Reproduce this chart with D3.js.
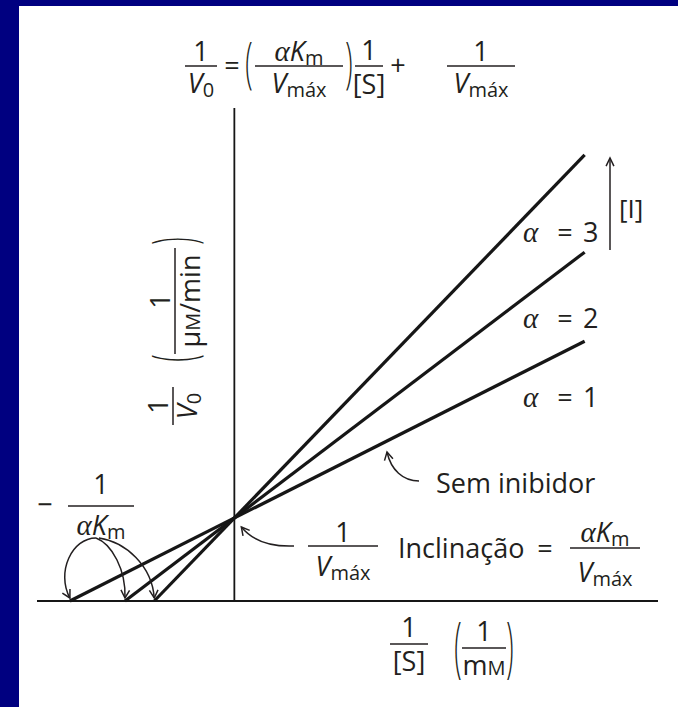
<!DOCTYPE html>
<html>
<head>
<meta charset="utf-8">
<script src="https://cdn.jsdelivr.net/npm/d3@7"></script>
<style>
  html, body { margin: 0; padding: 0; background: #ffffff; overflow: hidden; }
  svg { display: block; }
  text { font-family: "Open Sans", "Noto Sans", sans-serif; fill: #231f20; }
</style>
</head>
<body>
<svg id="chart" width="678" height="707"></svg>
<script>
// Lineweaver–Burk (double reciprocal) plot for competitive inhibition.
// All lines share the y-intercept 1/Vmax; their x-intercepts are -1/(αKm).
const alphaValues = [1, 2, 3];
const invVmax = 1.0;                          // 1/V0 at 1/[S] = 0
const xIntercepts = [-1.0, -0.665, -0.487];   // -1/(αKm) for α = 1, 2, 3
const invSEnd = 2.13;                         // right end of each line (1/[S])
const xDomain = [-1.2, 2.576];
const yDomain = [0, 6];
const yAxisTop = 5.94;

const W = 678, H = 707;
const ink = "#231f20";
const lineInk = "#161616";
const FS = 27;

const svg = d3.select("#chart");

// panel: navy frame on the left and top, white drawing area
svg.append("rect").attr("width", W).attr("height", H).attr("fill", "#000080");
svg.append("rect").attr("x", 19).attr("y", 6).attr("width", W - 19).attr("height", H - 6).attr("fill", "#ffffff");

const x = d3.scaleLinear().domain(xDomain).range([37, 658]);
const y = d3.scaleLinear().domain(yDomain).range([601, 103]);

// axes: horizontal 1/[S] axis and vertical 1/V0 axis through the origin
svg.append("line")
  .attr("x1", x(xDomain[0])).attr("x2", x(xDomain[1]))
  .attr("y1", y(0)).attr("y2", y(0))
  .attr("stroke", lineInk).attr("stroke-width", 1.8);
svg.append("line")
  .attr("x1", x(0)).attr("x2", x(0))
  .attr("y1", y(0)).attr("y2", y(yAxisTop))
  .attr("stroke", lineInk).attr("stroke-width", 1.8);

// one straight line per α, from its x-intercept to the right edge
const series = alphaValues.map((a, i) => {
  const slope = invVmax / -xIntercepts[i];
  return { alpha: a, pts: [[xIntercepts[i], 0], [invSEnd, invVmax + slope * invSEnd]] };
});
const lineGen = d3.line().x(d => x(d[0])).y(d => y(d[1]));
svg.append("g").selectAll("path").data(series).join("path")
  .attr("d", d => lineGen(d.pts))
  .attr("fill", "none").attr("stroke", lineInk).attr("stroke-width", 3.2);

// ---------- text helpers ----------
// parts: [string, style] with style "" (upright), "i" (italic), "a" (Greek italic),
// "s" (subscript), "sc" (small capital)
function rich(g, px, py, parts, anchor = "middle", fs = FS) {
  const t = g.append("text").attr("x", px).attr("y", py)
    .attr("text-anchor", anchor).attr("font-size", fs);
  let off = 0;
  parts.forEach(([s, st]) => {
    const sp = t.append("tspan").text(s);
    let target = 0;
    if (st === "i") sp.attr("font-style", "italic");
    if (st === "a") sp.attr("font-style", "italic").attr("font-family", "'Liberation Serif', serif").attr("font-size", fs * 1.08);
    if (st === "s") { sp.attr("font-size", fs * 0.74); target = 4; }
    if (st === "sc") sp.attr("font-size", fs * 0.74);
    if (target !== off) { sp.attr("dy", target - off); off = target; }
  });
  return t;
}
function frac(g, cx, barY, halfW, num, den, numDy = -5, denDy = 27, fs = FS) {
  g.append("line")
    .attr("x1", cx - halfW).attr("x2", cx + halfW)
    .attr("y1", barY).attr("y2", barY)
    .attr("stroke", ink).attr("stroke-width", 1.5);
  rich(g, cx, barY + numDy, num, "middle", fs);
  rich(g, cx, barY + denDy, den, "middle", fs);
}
// tall parenthesis, stretched vertically about its centre
function paren(g, px, cy, ch, height, fs = FS) {
  const k = height / fs;
  g.append("g").attr("transform", `translate(${px},${cy}) scale(1,${k})`)
    .append("text").attr("x", 0).attr("y", 0.26 * fs)
    .attr("text-anchor", "middle").attr("font-size", fs).attr("font-weight", 300)
    .text(ch);
}
function arrowHead(g, tip, from, len = 9, ang = 0.5) {
  const a = Math.atan2(tip[1] - from[1], tip[0] - from[0]);
  const p1 = [tip[0] - len * Math.cos(a - ang), tip[1] - len * Math.sin(a - ang)];
  const p2 = [tip[0] - len * Math.cos(a + ang), tip[1] - len * Math.sin(a + ang)];
  g.append("path").attr("d", `M${p1}L${tip}L${p2}`)
    .attr("fill", "none").attr("stroke", ink).attr("stroke-width", 1.5);
}
function curvedArrow(g, start, c1, c2, tip) {
  g.append("path").attr("d", `M${start}C${c1} ${c2} ${tip}`)
    .attr("fill", "none").attr("stroke", ink).attr("stroke-width", 1.5);
  arrowHead(g, tip, c2);
}

const ann = svg.append("g");

// ---------- equation above the plot ----------
frac(ann, 201, 66, 16, [["1", ""]], [["V", "i"], ["0", "s"]]);
rich(ann, 232, 75, [["=", ""]]);
paren(ann, 249, 67, "(", 56);
frac(ann, 299, 66, 44, [["α", "a"], ["K", "i"], ["m", "s"]], [["V", "i"], ["máx", "s"]]);
paren(ann, 349, 67, ")", 56);
frac(ann, 369, 66, 14, [["1", ""]], [["[S]", ""]], -6, 28);
rich(ann, 398, 75, [["+", ""]]);
frac(ann, 481, 66, 34, [["1", ""]], [["V", "i"], ["máx", "s"]]);

// ---------- y-axis title (rotated) ----------
const yt = svg.append("g").attr("transform", "rotate(-90)");
frac(yt, -406, 173, 19, [["1", ""]], [["V", "i"], ["0", "s"]], -5, 24);
paren(yt, -358, 179, "(", 58);
frac(yt, -301, 175, 53, [["1", ""]], [["μ", ""], ["M", "sc"], ["/min", ""]], -5, 25);
paren(yt, -241, 179, ")", 58);

// ---------- x-axis title ----------
frac(ann, 409, 644, 19, [["1", ""]], [["[S]", ""]], -7, 27);
paren(ann, 458, 653, "(", 66);
frac(ann, 484, 648, 22, [["1", ""]], [["m", ""], ["M", "sc"]], -7, 27);
paren(ann, 510, 653, ")", 66);

// ---------- -1/(αKm) with arrows to each x-intercept ----------
rich(ann, 45, 514, [["−", ""]]);
frac(ann, 101, 506, 33, [["1", ""]], [["α", "a"], ["K", "i"], ["m", "s"]], -12, 29);
const tips = xIntercepts.map(v => [x(v), y(0) - 3]);
const arcStart = [96, 538];
curvedArrow(ann, arcStart, [72, 538], [56, 572], tips[0]);
curvedArrow(ann, arcStart, [112, 544], [126, 570], tips[1]);
curvedArrow(ann, [99, 538], [126, 542], [152, 566], tips[2]);

// ---------- 1/Vmax label at the common y-intercept ----------
frac(ann, 343, 546, 35, [["1", ""]], [["V", "i"], ["máx", "s"]], -4, 30);
curvedArrow(ann, [294, 546], [270, 547], [252, 540], [x(0) + 7, y(invVmax) + 9]);

// ---------- slope label ----------
rich(ann, 398, 558, [["Inclinação", ""]], "start");
rich(ann, 545, 558, [["=", ""]]);
frac(ann, 605, 548, 35, [["α", "a"], ["K", "i"], ["m", "s"]], [["V", "i"], ["máx", "s"]], -6, 34);

// ---------- "Sem inibidor" pointer to the α = 1 line ----------
rich(ann, 436, 493, [["Sem inibidor", ""]], "start");
curvedArrow(ann, [419, 481], [403, 481], [391, 470], [387, 452]);

// ---------- α labels beneath the line ends ----------
const labelBase = [407, 328, 242];
alphaValues.forEach((a, i) => {
  const t = ann.append("text").attr("y", labelBase[i]).attr("font-size", FS);
  t.append("tspan").attr("x", 523).attr("font-style", "italic")
    .attr("font-family", "'Liberation Serif', serif").attr("font-size", FS * 1.08).text("α");
  t.append("tspan").attr("x", 565).attr("text-anchor", "middle").text("=");
  t.append("tspan").attr("x", 583).text(String(a));
});

// ---------- increasing inhibitor concentration ----------
ann.append("line").attr("x1", 610).attr("x2", 610).attr("y1", 250).attr("y2", 158)
  .attr("stroke", ink).attr("stroke-width", 1.5);
arrowHead(ann, [610, 158], [610, 170], 9, 0.45);
ann.append("text").attr("x", 619).attr("y", 218).attr("font-size", 26)
  .attr("font-family", "'Liberation Serif', serif").text("[I]");
</script>
</body>
</html>
